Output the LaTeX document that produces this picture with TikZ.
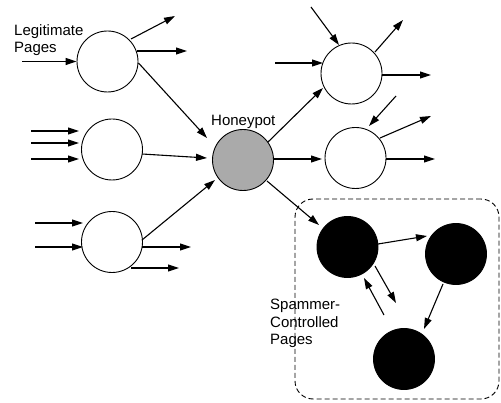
\documentclass[tikz,border=0pt]{standalone}
\usepackage{fontspec}
\setmainfont{Liberation Sans}
\usetikzlibrary{arrows.meta,calc}
\definecolor{honeygray}{RGB}{170,170,170}

\begin{document}
\begin{tikzpicture}[x=1pt,y=-1pt,
  page/.style={circle,draw,line width=0.9pt,minimum size=61pt,inner sep=0pt},
  legit/.style={page,fill=white},
  honey/.style={page,fill=honeygray},
  spam/.style={page,fill=black},
  link/.style={line width=1.1pt,-{Triangle[length=11pt,width=7pt]}},
  lbl/.style={font=\fontsize{15}{17.5}\selectfont,align=left,inner sep=0pt,anchor=north west},
  zone/.style={draw,dashed,dash pattern=on 5pt off 3pt,line width=0.9pt,rounded corners=18pt,
    minimum width=204pt,minimum height=200pt,inner sep=0pt}
]
\useasboundingbox (0,0) rectangle (501,403);

% region holding the spammer-controlled pages
\node[zone] (zone) at (397,299) {};

% pages
\node[legit] (L1) at (107.5,61.5) {};
\node[legit] (L2) at (112,149.5) {};
\node[legit] (L3) at (112,242) {};
\node[honey] (H)  at (243,160) {};
\node[legit] (R1) at (351.5,73.5) {};
\node[legit] (R2) at (355.5,158) {};
\node[spam]  (S1) at (347.5,247) {};
\node[spam]  (S2) at (456,254) {};
\node[spam]  (S3) at (404,359) {};

% labels
\node[lbl] (legitlabel) at (14,24) {Legitimate\\Pages};
\node[lbl] (honeylabel) at (211,115) {Honeypot};
\node[lbl] (spamlabel)  at (270,299) {Spammer-\\Controlled\\Pages};

% loose ends of links to and from the rest of the web
\coordinate (p1)  at (22,61.5);
\coordinate (p2)  at (175,16);
\coordinate (p3)  at (187,51);
\coordinate (p5)  at (31,131);
\coordinate (p6)  at (31,143);
\coordinate (p7)  at (31,159);
\coordinate (p9)  at (35,223);
\coordinate (p10) at (35,247);
\coordinate (p11) at (191,247);
\coordinate (p12) at (179,268);
\coordinate (p17) at (311,7);
\coordinate (p18) at (275,63);
\coordinate (p19) at (403,20);
\coordinate (p20) at (431,75);
\coordinate (p21) at (396,96);
\coordinate (p22) at (431,116);
\coordinate (p23) at (435,159);
\coordinate (p26) at (396,303);
\coordinate (p27) at (384,315);

% links of the first legitimate page
\draw[link] (p1) -- (L1.west);
\draw[link] ($(L1)+(23.5,-22.5)$) -- (p2);
\draw[link] ($(L1)+(29.5,-10.5)$) -- (p3);
\draw[link] ($(L1)+(31,1.5)$) -- ($(H)+(-36,-22)$);

% links of the second legitimate page
\draw[link] (p5) -- ($(L2)+(-33,-18.5)$);
\draw[link] (p6) -- ($(L2)+(-33,-6.5)$);
\draw[link] (p7) -- ($(L2)+(-33,9.5)$);
\draw[link] ($(L2)+(30,4.5)$) -- ($(H)+(-36,-2)$);

% links of the third legitimate page
\draw[link] (p9) -- ($(L3)+(-29,-19)$);
\draw[link] (p10) -- ($(L3)+(-29,5)$);
\draw[link] ($(L3)+(30,5)$) -- (p11);
\draw[link] ($(L3)+(19,26)$) -- (p12);
\draw[link] ($(L3)+(30,-2)$) -- ($(H)+(-28,20)$);

% links out of the honeypot
\draw[link] ($(H)+(25,-18)$) -- ($(R1)+(-28.5,14.5)$);
\draw[link] ($(H)+(31,-1)$) -- ($(R2)+(-33.5,1)$);
\draw[link] ($(H)+(24,21)$) -- ($(S1)+(-28.5,-22)$);

% links of the pages reached from the honeypot
\draw[link] (p17) -- ($(R1)+(-12.5,-28.5)$);
\draw[link] (p18) -- ($(R1)+(-28.5,-10.5)$);
\draw[link] ($(R1)+(23.5,-21.5)$) -- (p19);
\draw[link] ($(R1)+(30.5,1.5)$) -- (p20);
\draw[link] (p21) -- ($(R2)+(13.5,-32)$);
\draw[link] ($(R2)+(24.5,-20)$) -- (p22);
\draw[link] ($(R2)+(30.5,1)$) -- (p23);

% links among the spammer-controlled pages
\draw[link] ($(S1)+(30.5,-3)$) -- ($(S2)+(-29,-18)$);
\draw[link] ($(S2)+(-13,30)$) -- ($(S3)+(20,-30)$);
\draw[link] ($(S1)+(27.5,19)$) -- (p26);
\draw[link] (p27) -- ($(S1)+(16.5,31)$);
\end{tikzpicture}
\end{document}
